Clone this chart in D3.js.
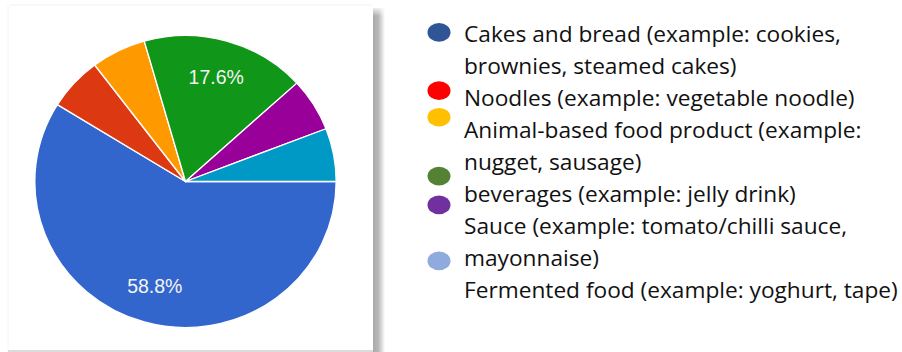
<!DOCTYPE html>
<html>
<head>
<meta charset="utf-8">
<script src="https://cdn.jsdelivr.net/npm/d3@7"></script>
<style>
  html, body { margin: 0; padding: 0; background: #fff; }
  svg { display: block; }
</style>
</head>
<body>
<div id="root"></div>
<script>
// respondent counts per category (10/17 = 58.8%, 3/17 = 17.6%, 1/17 = 5.9%)
const categories = [
  "Cakes and bread (example: cookies, brownies, steamed cakes)",
  "Noodles (example: vegetable noodle)",
  "Animal-based food product (example: nugget, sausage)",
  "beverages (example: jelly drink)",
  "Sauce (example: tomato/chilli sauce, mayonnaise)",
  "Fermented food (example: yoghurt, tape)",
];
const counts = [10, 1, 1, 3, 1, 1];
const pieColors = ["#3366cc", "#dc3912", "#ff9900", "#109618", "#990099", "#0099c6"];

// legend: wrapped lines as in the picture, and its (separate) dot colours
const legendLines = [
  "Cakes and bread (example: cookies,",
  "brownies, steamed cakes)",
  "Noodles (example: vegetable noodle)",
  "Animal-based food product (example:",
  "nugget, sausage)",
  "beverages (example: jelly drink)",
  "Sauce (example: tomato/chilli sauce,",
  "mayonnaise)",
  "Fermented food (example: yoghurt, tape)",
];
const legendDotColors = ["#2f5597", "#ff0000", "#ffc000", "#548235", "#7030a0", "#8faadc"];

const main = () => {
  const W = 902, H = 352;
  const cx = 185.5, cy = 181.5, R = 146;

  const svg = d3.select("#root").append("svg")
    .attr("width", W).attr("height", H);

  // screenshot panel with right shadow
  const defs = svg.append("defs");
  const grad = defs.append("linearGradient").attr("id", "shadow")
    .attr("x1", 0).attr("x2", 1).attr("y1", 0).attr("y2", 0);
  grad.append("stop").attr("offset", 0).attr("stop-color", "#a9a9a9");
  grad.append("stop").attr("offset", 0.45).attr("stop-color", "#b8b8b8");
  grad.append("stop").attr("offset", 1).attr("stop-color", "#ffffff");
  const gradV = defs.append("linearGradient").attr("id", "shadowTop")
    .attr("x1", 0).attr("x2", 0).attr("y1", 0).attr("y2", 1);
  gradV.append("stop").attr("offset", 0).attr("stop-color", "#fff").attr("stop-opacity", 1);
  gradV.append("stop").attr("offset", 1).attr("stop-color", "#fff").attr("stop-opacity", 0);

  svg.append("line")
    .attr("x1", 10).attr("x2", 372).attr("y1", 5).attr("y2", 5)
    .attr("stroke", "#f2f2f2").attr("stroke-width", 1);
  svg.append("line")
    .attr("x1", 8).attr("x2", 8).attr("y1", 5).attr("y2", 350)
    .attr("stroke", "#f4f4f4").attr("stroke-width", 1);
  svg.append("line")
    .attr("x1", 8).attr("x2", 376).attr("y1", 351).attr("y2", 351)
    .attr("stroke", "#cfcfcf").attr("stroke-width", 1.5);
  svg.append("rect")
    .attr("x", 373).attr("y", 8).attr("width", 12).attr("height", H - 8)
    .attr("fill", "url(#shadow)");
  svg.append("rect")
    .attr("x", 372).attr("y", 6).attr("width", 14).attr("height", 10)
    .attr("fill", "url(#shadowTop)");

  // pie (starts at 3 o'clock, clockwise)
  const pie = d3.pie().sort(null)
    .startAngle(Math.PI / 2).endAngle(Math.PI / 2 + 2 * Math.PI);
  const arcs = pie(counts);
  const arc = d3.arc().innerRadius(0).outerRadius(R);
  const labelArc = d3.arc().innerRadius(R * 0.745).outerRadius(R * 0.745);
  const total = d3.sum(counts);

  const g = svg.append("g")
    .attr("transform", `translate(${cx},${cy}) scale(1.032,1)`);
  g.selectAll("path").data(arcs).join("path")
    .attr("d", arc)
    .attr("fill", (d, i) => pieColors[i])
    .attr("stroke", "#fff")
    .attr("stroke-width", 1.3)
    .attr("stroke-linejoin", "round");

  g.selectAll("text").data(arcs.filter(d => d.value / total > 0.1)).join("text")
    .attr("transform", d => `translate(${labelArc.centroid(d)}) scale(${1 / 1.032},1)`)
    .attr("text-anchor", "middle")
    .attr("dy", "0.36em")
    .attr("font-family", "Arial, 'Liberation Sans', sans-serif")
    .attr("font-size", 19.5)
    .attr("fill", "#f4f4f4")
    .text(d => (d.value / total * 100).toFixed(1) + "%");

  // legend
  const lineY = d3.scaleLinear().domain([0, 1]).range([42, 74]);
  const legendX = 464;
  const legend = svg.append("g");
  const textG = legend.append("g");
  const texts = textG.selectAll("text").data(legendLines).join("text")
    .attr("x", 0)
    .attr("y", (d, i) => lineY(i))
    .attr("font-family", "'Open Sans', 'Noto Sans', sans-serif")
    .attr("font-size", 22.5)
    .attr("fill", "#111")
    .text(d => d);
  // squeeze horizontally so the longest line spans like the picture (narrower face there)
  const maxW = d3.max(texts.nodes(), n => n.getComputedTextLength());
  textG.attr("transform", `translate(${legendX},0) scale(${434 / maxW},1)`);

  // dots sit at irregular heights (in line units) in the picture
  const dotRow = [-0.3, 1.52, 2.35, 4.19, 5.09, 6.84];
  legend.selectAll("ellipse").data(legendDotColors).join("ellipse")
    .attr("cx", 439)
    .attr("cy", (d, i) => lineY(dotRow[i]))
    .attr("rx", 11.5).attr("ry", 9.3)
    .attr("fill", d => d);
};

main();
</script>
</body>
</html>
